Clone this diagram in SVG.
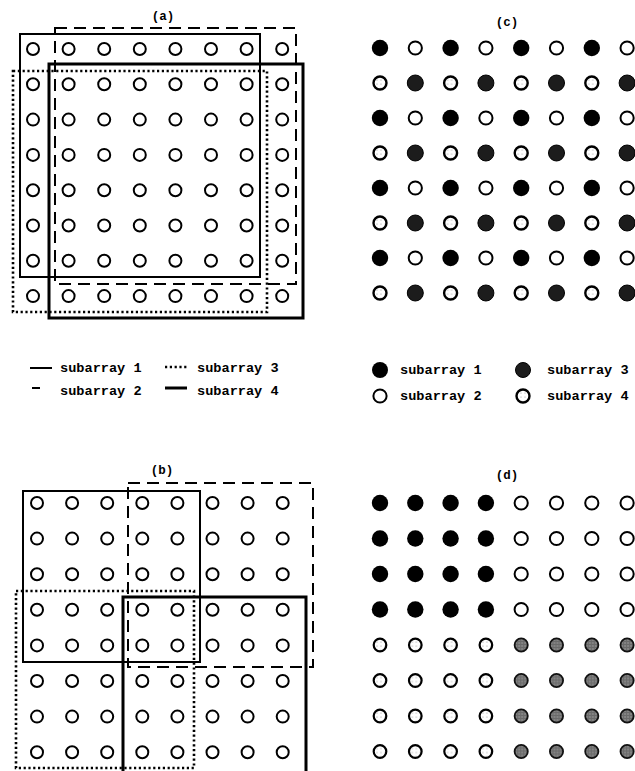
<svg xmlns="http://www.w3.org/2000/svg" xmlns:xlink="http://www.w3.org/1999/xlink" width="635" height="771" viewBox="0 0 635 771">
<style>
text{font-family:"Liberation Mono","DejaVu Sans Mono",monospace;font-weight:bold;fill:#000}
.title{font-size:12.5px;text-anchor:middle}
.leg{font-size:13.6px}
.s1{fill:none;stroke:#000;stroke-width:2}
.s2{fill:none;stroke:#000;stroke-width:2;stroke-dasharray:12,7}
.s3{fill:none;stroke:#000;stroke-width:2.6;stroke-dasharray:2.2,2.6}
.s4{fill:none;stroke:#000;stroke-width:3}
</style>
<defs>
<pattern id="speck" patternUnits="userSpaceOnUse" width="4" height="4">
<rect width="4" height="4" fill="#fff"/>
<circle cx="1" cy="1" r="0.6" fill="#999"/>
</pattern>
<pattern id="dgrey" patternUnits="userSpaceOnUse" width="3" height="3">
<rect width="3" height="3" fill="#6a6a6a"/>
<circle cx="1" cy="1" r="0.7" fill="#b0b0b0"/>
</pattern>
<circle id="oc" r="6" fill="#fff" stroke="#000" stroke-width="2"/>
<circle id="w" r="6.6" fill="#fff" stroke="#000" stroke-width="2"/>
<circle id="b" r="8.2" fill="#000"/>
<circle id="g3" r="8" fill="#1c1c1c" stroke="#000" stroke-width="1"/>
<circle id="g4" r="6.5" fill="url(#speck)" stroke="#000" stroke-width="2.4"/>
<circle id="d3" r="6.6" fill="url(#dgrey)" stroke="#111" stroke-width="1.8"/>
<circle id="d4" r="6.3" fill="url(#speck)" stroke="#000" stroke-width="2.2"/>
</defs>

<g id="panel-a">
<text class="title" x="163" y="20">(a)</text>
<g id="a-circles">
<use href="#oc" x="33" y="49"/><use href="#oc" x="68.6" y="49"/><use href="#oc" x="104.2" y="49"/><use href="#oc" x="139.8" y="49"/><use href="#oc" x="175.4" y="49"/><use href="#oc" x="211" y="49"/><use href="#oc" x="246.6" y="49"/><use href="#oc" x="282.2" y="49"/>
<use href="#oc" x="33" y="84.3"/><use href="#oc" x="68.6" y="84.3"/><use href="#oc" x="104.2" y="84.3"/><use href="#oc" x="139.8" y="84.3"/><use href="#oc" x="175.4" y="84.3"/><use href="#oc" x="211" y="84.3"/><use href="#oc" x="246.6" y="84.3"/><use href="#oc" x="282.2" y="84.3"/>
<use href="#oc" x="33" y="119.6"/><use href="#oc" x="68.6" y="119.6"/><use href="#oc" x="104.2" y="119.6"/><use href="#oc" x="139.8" y="119.6"/><use href="#oc" x="175.4" y="119.6"/><use href="#oc" x="211" y="119.6"/><use href="#oc" x="246.6" y="119.6"/><use href="#oc" x="282.2" y="119.6"/>
<use href="#oc" x="33" y="154.9"/><use href="#oc" x="68.6" y="154.9"/><use href="#oc" x="104.2" y="154.9"/><use href="#oc" x="139.8" y="154.9"/><use href="#oc" x="175.4" y="154.9"/><use href="#oc" x="211" y="154.9"/><use href="#oc" x="246.6" y="154.9"/><use href="#oc" x="282.2" y="154.9"/>
<use href="#oc" x="33" y="190.2"/><use href="#oc" x="68.6" y="190.2"/><use href="#oc" x="104.2" y="190.2"/><use href="#oc" x="139.8" y="190.2"/><use href="#oc" x="175.4" y="190.2"/><use href="#oc" x="211" y="190.2"/><use href="#oc" x="246.6" y="190.2"/><use href="#oc" x="282.2" y="190.2"/>
<use href="#oc" x="33" y="225.5"/><use href="#oc" x="68.6" y="225.5"/><use href="#oc" x="104.2" y="225.5"/><use href="#oc" x="139.8" y="225.5"/><use href="#oc" x="175.4" y="225.5"/><use href="#oc" x="211" y="225.5"/><use href="#oc" x="246.6" y="225.5"/><use href="#oc" x="282.2" y="225.5"/>
<use href="#oc" x="33" y="260.8"/><use href="#oc" x="68.6" y="260.8"/><use href="#oc" x="104.2" y="260.8"/><use href="#oc" x="139.8" y="260.8"/><use href="#oc" x="175.4" y="260.8"/><use href="#oc" x="211" y="260.8"/><use href="#oc" x="246.6" y="260.8"/><use href="#oc" x="282.2" y="260.8"/>
<use href="#oc" x="33" y="296.1"/><use href="#oc" x="68.6" y="296.1"/><use href="#oc" x="104.2" y="296.1"/><use href="#oc" x="139.8" y="296.1"/><use href="#oc" x="175.4" y="296.1"/><use href="#oc" x="211" y="296.1"/><use href="#oc" x="246.6" y="296.1"/><use href="#oc" x="282.2" y="296.1"/>
</g>
<g id="a-subarrays">
<rect class="s1" x="20" y="34" width="240" height="243"/>
<rect class="s2" x="55" y="28" width="241" height="256"/>
<rect class="s3" x="13" y="71" width="254" height="241"/>
<rect class="s4" x="49" y="64" width="254" height="254"/>
</g>
</g>

<g id="legend-a">
<line class="s1" x1="30" y1="368" x2="52" y2="368" stroke-width="2.5"/>
<text class="leg" x="60" y="372">subarray 1</text>
<line class="s3" x1="165" y1="367" x2="188" y2="367"/>
<text class="leg" x="197" y="372">subarray 3</text>
<line class="s1" x1="32" y1="388" x2="40" y2="388"/>
<text class="leg" x="60" y="395">subarray 2</text>
<line class="s4" x1="165" y1="388" x2="187" y2="388"/>
<text class="leg" x="197" y="395">subarray 4</text>
</g>

<g id="panel-b">
<text class="title" x="162" y="474">(b)</text>
<g id="b-circles">
<use href="#oc" x="37" y="503"/><use href="#oc" x="72.1" y="503"/><use href="#oc" x="107.2" y="503"/><use href="#oc" x="142.3" y="503"/><use href="#oc" x="177.4" y="503"/><use href="#oc" x="212.5" y="503"/><use href="#oc" x="247.6" y="503"/><use href="#oc" x="282.7" y="503"/>
<use href="#oc" x="37" y="538.6"/><use href="#oc" x="72.1" y="538.6"/><use href="#oc" x="107.2" y="538.6"/><use href="#oc" x="142.3" y="538.6"/><use href="#oc" x="177.4" y="538.6"/><use href="#oc" x="212.5" y="538.6"/><use href="#oc" x="247.6" y="538.6"/><use href="#oc" x="282.7" y="538.6"/>
<use href="#oc" x="37" y="574.2"/><use href="#oc" x="72.1" y="574.2"/><use href="#oc" x="107.2" y="574.2"/><use href="#oc" x="142.3" y="574.2"/><use href="#oc" x="177.4" y="574.2"/><use href="#oc" x="212.5" y="574.2"/><use href="#oc" x="247.6" y="574.2"/><use href="#oc" x="282.7" y="574.2"/>
<use href="#oc" x="37" y="609.8"/><use href="#oc" x="72.1" y="609.8"/><use href="#oc" x="107.2" y="609.8"/><use href="#oc" x="142.3" y="609.8"/><use href="#oc" x="177.4" y="609.8"/><use href="#oc" x="212.5" y="609.8"/><use href="#oc" x="247.6" y="609.8"/><use href="#oc" x="282.7" y="609.8"/>
<use href="#oc" x="37" y="645.4"/><use href="#oc" x="72.1" y="645.4"/><use href="#oc" x="107.2" y="645.4"/><use href="#oc" x="142.3" y="645.4"/><use href="#oc" x="177.4" y="645.4"/><use href="#oc" x="212.5" y="645.4"/><use href="#oc" x="247.6" y="645.4"/><use href="#oc" x="282.7" y="645.4"/>
<use href="#oc" x="37" y="681"/><use href="#oc" x="72.1" y="681"/><use href="#oc" x="107.2" y="681"/><use href="#oc" x="142.3" y="681"/><use href="#oc" x="177.4" y="681"/><use href="#oc" x="212.5" y="681"/><use href="#oc" x="247.6" y="681"/><use href="#oc" x="282.7" y="681"/>
<use href="#oc" x="37" y="716.6"/><use href="#oc" x="72.1" y="716.6"/><use href="#oc" x="107.2" y="716.6"/><use href="#oc" x="142.3" y="716.6"/><use href="#oc" x="177.4" y="716.6"/><use href="#oc" x="212.5" y="716.6"/><use href="#oc" x="247.6" y="716.6"/><use href="#oc" x="282.7" y="716.6"/>
<use href="#oc" x="37" y="752.2"/><use href="#oc" x="72.1" y="752.2"/><use href="#oc" x="107.2" y="752.2"/><use href="#oc" x="142.3" y="752.2"/><use href="#oc" x="177.4" y="752.2"/><use href="#oc" x="212.5" y="752.2"/><use href="#oc" x="247.6" y="752.2"/><use href="#oc" x="282.7" y="752.2"/>
</g>
<g id="b-subarrays">
<rect class="s1" x="23" y="491" width="177" height="171"/>
<rect class="s2" x="128" y="483" width="185" height="184"/>
<rect class="s3" x="16" y="591" width="178" height="177"/>
<path class="s4" d="M123,772 V597 H306 V772"/>
</g>
</g>

<g id="panel-c">
<text class="title" x="507" y="26">(c)</text>
<g id="c-circles">
<use href="#b" x="380" y="48"/><use href="#w" x="415.3" y="48"/><use href="#b" x="450.6" y="48"/><use href="#w" x="485.9" y="48"/><use href="#b" x="521.2" y="48"/><use href="#w" x="556.5" y="48"/><use href="#b" x="591.8" y="48"/><use href="#w" x="627.1" y="48"/>
<use href="#g4" x="380" y="83"/><use href="#g3" x="415.3" y="83"/><use href="#g4" x="450.6" y="83"/><use href="#g3" x="485.9" y="83"/><use href="#g4" x="521.2" y="83"/><use href="#g3" x="556.5" y="83"/><use href="#g4" x="591.8" y="83"/><use href="#g3" x="627.1" y="83"/>
<use href="#b" x="380" y="118"/><use href="#w" x="415.3" y="118"/><use href="#b" x="450.6" y="118"/><use href="#w" x="485.9" y="118"/><use href="#b" x="521.2" y="118"/><use href="#w" x="556.5" y="118"/><use href="#b" x="591.8" y="118"/><use href="#w" x="627.1" y="118"/>
<use href="#g4" x="380" y="153"/><use href="#g3" x="415.3" y="153"/><use href="#g4" x="450.6" y="153"/><use href="#g3" x="485.9" y="153"/><use href="#g4" x="521.2" y="153"/><use href="#g3" x="556.5" y="153"/><use href="#g4" x="591.8" y="153"/><use href="#g3" x="627.1" y="153"/>
<use href="#b" x="380" y="188"/><use href="#w" x="415.3" y="188"/><use href="#b" x="450.6" y="188"/><use href="#w" x="485.9" y="188"/><use href="#b" x="521.2" y="188"/><use href="#w" x="556.5" y="188"/><use href="#b" x="591.8" y="188"/><use href="#w" x="627.1" y="188"/>
<use href="#g4" x="380" y="223"/><use href="#g3" x="415.3" y="223"/><use href="#g4" x="450.6" y="223"/><use href="#g3" x="485.9" y="223"/><use href="#g4" x="521.2" y="223"/><use href="#g3" x="556.5" y="223"/><use href="#g4" x="591.8" y="223"/><use href="#g3" x="627.1" y="223"/>
<use href="#b" x="380" y="258"/><use href="#w" x="415.3" y="258"/><use href="#b" x="450.6" y="258"/><use href="#w" x="485.9" y="258"/><use href="#b" x="521.2" y="258"/><use href="#w" x="556.5" y="258"/><use href="#b" x="591.8" y="258"/><use href="#w" x="627.1" y="258"/>
<use href="#g4" x="380" y="293"/><use href="#g3" x="415.3" y="293"/><use href="#g4" x="450.6" y="293"/><use href="#g3" x="485.9" y="293"/><use href="#g4" x="521.2" y="293"/><use href="#g3" x="556.5" y="293"/><use href="#g4" x="591.8" y="293"/><use href="#g3" x="627.1" y="293"/>
</g>
</g>

<g id="legend-c">
<circle cx="380" cy="370" r="8" fill="#000"/>
<text class="leg" x="400" y="374">subarray 1</text>
<circle cx="523" cy="370" r="7.5" fill="#1c1c1c" stroke="#000" stroke-width="1"/>
<text class="leg" x="547" y="374">subarray 3</text>
<circle cx="380" cy="396" r="6.6" fill="#fff" stroke="#000" stroke-width="2"/>
<text class="leg" x="400" y="400">subarray 2</text>
<circle cx="523" cy="396" r="6.5" fill="url(#speck)" stroke="#000" stroke-width="2.4"/>
<text class="leg" x="547" y="400">subarray 4</text>
</g>

<g id="panel-d">
<text class="title" x="507" y="479">(d)</text>
<g id="d-circles">
<use href="#b" x="380" y="503"/><use href="#b" x="415.3" y="503"/><use href="#b" x="450.6" y="503"/><use href="#b" x="485.9" y="503"/><use href="#w" x="521.2" y="503"/><use href="#w" x="556.5" y="503"/><use href="#w" x="591.8" y="503"/><use href="#w" x="627.1" y="503"/>
<use href="#b" x="380" y="538.5"/><use href="#b" x="415.3" y="538.5"/><use href="#b" x="450.6" y="538.5"/><use href="#b" x="485.9" y="538.5"/><use href="#w" x="521.2" y="538.5"/><use href="#w" x="556.5" y="538.5"/><use href="#w" x="591.8" y="538.5"/><use href="#w" x="627.1" y="538.5"/>
<use href="#b" x="380" y="574"/><use href="#b" x="415.3" y="574"/><use href="#b" x="450.6" y="574"/><use href="#b" x="485.9" y="574"/><use href="#w" x="521.2" y="574"/><use href="#w" x="556.5" y="574"/><use href="#w" x="591.8" y="574"/><use href="#w" x="627.1" y="574"/>
<use href="#b" x="380" y="609.5"/><use href="#b" x="415.3" y="609.5"/><use href="#b" x="450.6" y="609.5"/><use href="#b" x="485.9" y="609.5"/><use href="#w" x="521.2" y="609.5"/><use href="#w" x="556.5" y="609.5"/><use href="#w" x="591.8" y="609.5"/><use href="#w" x="627.1" y="609.5"/>
<use href="#d4" x="380" y="645"/><use href="#d4" x="415.3" y="645"/><use href="#d4" x="450.6" y="645"/><use href="#d4" x="485.9" y="645"/><use href="#d3" x="521.2" y="645"/><use href="#d3" x="556.5" y="645"/><use href="#d3" x="591.8" y="645"/><use href="#d3" x="627.1" y="645"/>
<use href="#d4" x="380" y="680.5"/><use href="#d4" x="415.3" y="680.5"/><use href="#d4" x="450.6" y="680.5"/><use href="#d4" x="485.9" y="680.5"/><use href="#d3" x="521.2" y="680.5"/><use href="#d3" x="556.5" y="680.5"/><use href="#d3" x="591.8" y="680.5"/><use href="#d3" x="627.1" y="680.5"/>
<use href="#d4" x="380" y="716"/><use href="#d4" x="415.3" y="716"/><use href="#d4" x="450.6" y="716"/><use href="#d4" x="485.9" y="716"/><use href="#d3" x="521.2" y="716"/><use href="#d3" x="556.5" y="716"/><use href="#d3" x="591.8" y="716"/><use href="#d3" x="627.1" y="716"/>
<use href="#d4" x="380" y="751.5"/><use href="#d4" x="415.3" y="751.5"/><use href="#d4" x="450.6" y="751.5"/><use href="#d4" x="485.9" y="751.5"/><use href="#d3" x="521.2" y="751.5"/><use href="#d3" x="556.5" y="751.5"/><use href="#d3" x="591.8" y="751.5"/><use href="#d3" x="627.1" y="751.5"/>
</g>
</g>
</svg>
